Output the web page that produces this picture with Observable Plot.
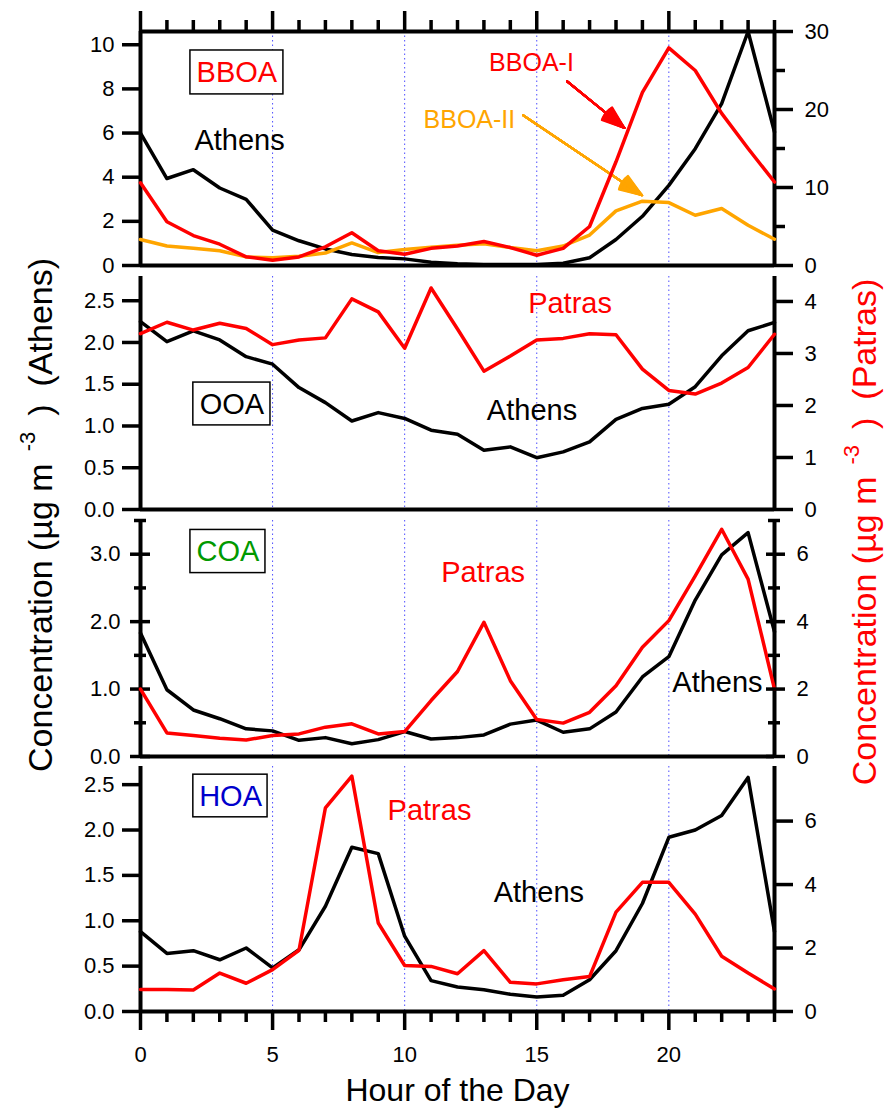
<!DOCTYPE html>
<html><head><meta charset="utf-8">
<script src="https://cdn.jsdelivr.net/npm/d3@7"></script>
<script src="https://cdn.jsdelivr.net/npm/@observablehq/plot@0.6"></script>
<style>
body{margin:0;background:#fff;}
#fig{position:relative;width:884px;height:1110px;font-family:"Liberation Sans",Arial,sans-serif;overflow:hidden;}
.panel{position:absolute;left:0;width:884px;}
.ytitle{position:absolute;white-space:nowrap;font-size:34px;transform:translate(-50%,-50%) rotate(-90deg);line-height:1;}
.ytitle sup{font-size:22px;vertical-align:0;position:relative;top:-17px;margin-left:12px;margin-right:16px;}
.ytitle .gap{display:inline-block;width:18px;}
</style></head><body><div id="fig"></div><script>
// ---------- data ----------
const hours = [0,1,2,3,4,5,6,7,8,9,10,11,12,13,14,15,16,17,18,19,20,21,22,23,24];
const bboaAthens = [6.0,3.94,4.34,3.51,3.0,1.6,1.12,0.75,0.5,0.36,0.3,0.15,0.08,0.05,0.05,0.05,0.1,0.35,1.18,2.23,3.63,5.29,7.33,10.6,6.05];
const bboaIPatras = [10.6,5.6,3.84,2.73,1.11,0.68,1.1,2.4,4.2,1.9,1.45,2.2,2.5,3.07,2.3,1.32,2.2,5.0,13.3,22.2,27.9,25.0,19.5,15.0,10.7];
const bboaIIPatras = [3.33,2.5,2.2,1.9,1.1,1.0,1.2,1.6,2.9,1.66,2.05,2.35,2.6,2.8,2.3,1.9,2.5,3.9,7.0,8.24,8.07,6.44,7.3,5.16,3.37];
const ooaAthens = [2.25,2.01,2.14,2.03,1.83,1.74,1.46,1.28,1.06,1.16,1.09,0.95,0.9,0.71,0.75,0.62,0.69,0.81,1.08,1.21,1.26,1.47,1.84,2.14,2.24];
const ooaPatras = [3.38,3.6,3.45,3.58,3.48,3.17,3.26,3.3,4.05,3.8,3.1,4.26,3.47,2.66,2.95,3.26,3.29,3.38,3.36,2.7,2.29,2.22,2.43,2.73,3.37];
const coaAthens = [1.83,0.99,0.69,0.56,0.41,0.38,0.24,0.28,0.19,0.25,0.37,0.26,0.28,0.32,0.48,0.54,0.36,0.41,0.66,1.18,1.48,2.32,2.99,3.32,1.85];
const coaPatras = [2.0,0.7,0.62,0.54,0.49,0.62,0.67,0.87,0.97,0.67,0.74,1.66,2.52,3.98,2.25,1.1,0.99,1.31,2.1,3.24,4.03,5.36,6.74,5.26,2.0];
const hoaAthens = [0.88,0.64,0.67,0.57,0.70,0.48,0.68,1.16,1.81,1.74,0.83,0.34,0.27,0.24,0.19,0.16,0.18,0.35,0.67,1.19,1.92,2.0,2.16,2.58,0.88];
const hoaPatras = [0.69,0.69,0.68,1.21,0.89,1.32,1.93,6.42,7.42,2.79,1.45,1.42,1.19,1.92,0.92,0.87,1.0,1.1,3.13,4.07,4.07,3.07,1.74,1.21,0.71];

const xMajorTicks = [0,5,10,15,20];
const xMinorTicks = [1,2,3,4,6,7,8,9,11,12,13,14,16,17,18,19,21,22,23,24];
const gridHours = [5,10,15,20];
const xTitle = "Hour of the Day";

// ---------- styles ----------
const RED = "#ff0000", ORANGE = "#ffa500", GREEN = "#009900", BLUE = "#0000cc";
const FONT = "'Liberation Sans', Arial, sans-serif";
const LW = 3.5, AW = 4, TW = 3.5;
const W = 884, ML = 140, MR = 110;

function series(vals){ return hours.map((h,i)=>({hour:h, v:vals[i]})); }

const panels = [
  { top:0, height:270, mt:31, mb:5, left:[0,10.6], right:[0,30],
    lTicks:[0,2,4,6,8,10], lMinor:[], lFmt:d3.format("d"),
    rTicks:[0,10,20,30], rMinor:[5,15,25], rFmt:d3.format("d"),
    leftLines:[{vals:bboaAthens, color:"black"}],
    rightLines:[{vals:bboaIIPatras, color:ORANGE},{vals:bboaIPatras, color:RED}],
    box:{x1:1.89,x2:5.41,y1:7.75,y2:9.74, text:"BBOA", x:3.65, y:8.72, color:RED},
    texts:[{x:3.75,y:5.65,text:"Athens",color:"black",size:29},
           {x:14.8,y:9.18,text:"BBOA-I",color:RED,size:25},
           {x:12.45,y:6.57,text:"BBOA-II",color:ORANGE,size:25}],
    arrows:[{x1:16.15,y1:8.34,x2:18.32,y2:6.23,color:RED},
            {x1:14.49,y1:6.8,x2:18.99,y2:3.18,color:ORANGE}],
    topAxis:true },
  { top:270, height:244, mt:6, mb:5, left:[0,2.79], right:[0,4.48],
    lTicks:[0,0.5,1,1.5,2,2.5], lMinor:[], lFmt:d3.format(".1f"),
    rTicks:[0,1,2,3,4], rMinor:[], rFmt:d3.format("d"),
    leftLines:[{vals:ooaAthens, color:"black"}],
    rightLines:[{vals:ooaPatras, color:RED}],
    box:{x1:2.0,x2:4.92,y1:1.007,y2:1.52, text:"OOA", x:3.46, y:1.25, color:"black"},
    texts:[{x:16.26,y:2.465,text:"Patras",color:RED,size:29},
           {x:14.82,y:1.186,text:"Athens",color:"black",size:29}],
    arrows:[] },
  { top:514, height:246, mt:6, mb:4, left:[0,3.5], right:[0,7],
    lTicks:[0,1,2,3], lMinor:[0.5,1.5,2.5,3.5], lFmt:d3.format(".1f"),
    rTicks:[0,2,4,6], rMinor:[1,3,5,7], rFmt:d3.format("d"),
    cross:true,
    leftLines:[{vals:coaAthens, color:"black"}],
    rightLines:[{vals:coaPatras, color:RED}],
    box:{x1:1.89,x2:4.73,y1:2.72,y2:3.36, text:"COA", x:3.31, y:3.03, color:GREEN},
    texts:[{x:12.97,y:2.73,text:"Patras",color:RED,size:29},
           {x:21.84,y:1.097,text:"Athens",color:"black",size:29}],
    arrows:[] },
  { top:760, height:350, mt:6, mb:99, left:[0,2.70], right:[0,7.72],
    lTicks:[0,0.5,1,1.5,2,2.5], lMinor:[], lFmt:d3.format(".1f"),
    rTicks:[0,2,4,6], rMinor:[], rFmt:d3.format("d"),
    leftLines:[{vals:hoaAthens, color:"black"}],
    rightLines:[{vals:hoaPatras, color:RED}],
    box:{x1:2.0,x2:4.81,y1:2.14,y2:2.61, text:"HOA", x:3.41, y:2.37, color:BLUE},
    texts:[{x:10.94,y:2.21,text:"Patras",color:RED,size:29},
           {x:15.08,y:1.31,text:"Athens",color:"black",size:29}],
    arrows:[] }
];

const fig = document.getElementById("fig");
const svgStyle = {position:"absolute", left:"0px", top:"0px", background:"transparent", overflow:"visible", fontFamily:FONT};

function yTicks(ticks, xAt, outLen, inLen, dir) {
  if (!ticks.length) return null;
  return Plot.ruleY(ticks, {y:d=>d, x1:()=>xAt, x2:()=>xAt,
    insetLeft: dir < 0 ? -outLen : -inLen,
    insetRight: dir < 0 ? -inLen : -outLen,
    stroke:"black", strokeWidth:TW});
}
function yLabels(ticks, side, offset, fmt) {
  return Plot.text(ticks, {y:d=>d, text:d=>fmt(d), frameAnchor:side,
    textAnchor: side === "left" ? "end" : "start", dx: side === "left" ? -offset : offset,
    fontSize:22, fill:"black"});
}
function xTicksTop(ticks, yAt, outLen) {
  return Plot.ruleX(ticks, {x:d=>d, y1:()=>yAt, y2:()=>yAt, insetTop:-outLen, stroke:"black", strokeWidth:TW});
}

for (const p of panels) {
  const div = document.createElement("div");
  div.className = "panel";
  div.style.top = p.top + "px";
  div.style.height = p.height + "px";
  fig.appendChild(div);

  const leftMarks = [
    Plot.ruleX(gridHours, {stroke:"#4d4dff", strokeWidth:1, strokeDasharray:"1.5,3"}),
    ...p.leftLines.map(s => Plot.line(series(s.vals), {x:"hour", y:"v", stroke:s.color, strokeWidth:LW})),
    Plot.ruleY([0], {stroke:"black", strokeWidth:AW}),
    Plot.ruleX([0], {stroke:"black", strokeWidth:AW}),
    Plot.ruleX([24], {stroke:"black", strokeWidth:AW}),
  ];
  if (p.cross) {
    leftMarks.push(yTicks(p.lTicks, 0, 10, 10, -1));
    leftMarks.push(yTicks(p.lMinor, 0, 6, 6, -1));
    leftMarks.push(yLabels(p.lTicks, "left", 20, p.lFmt));
  } else {
    leftMarks.push(yTicks(p.lTicks, 0, 18, 0, -1));
    leftMarks.push(yLabels(p.lTicks, "left", 26, p.lFmt));
  }
  leftMarks.push(Plot.rect([p.box], {x1:"x1", x2:"x2", y1:"y1", y2:"y2", fill:"white", stroke:"black", strokeWidth:1.5}));
  leftMarks.push(Plot.text([p.box], {x:"x", y:"y", text:"text", fill:p.box.color, fontSize:29, textAnchor:"middle"}));
  for (const t of p.texts) {
    leftMarks.push(Plot.text([t], {x:"x", y:"y", text:"text", fill:t.color, fontSize:t.size, textAnchor:"middle"}));
  }
  for (const a of p.arrows) {
    leftMarks.push(Plot.arrow([a], {x1:"x1", y1:"y1", x2:"x2", y2:"y2", stroke:a.color, strokeWidth:2, headLength:0}));
    for (const ang of [4,8,12,16,20,24,28,32,36,40]) {
      leftMarks.push(Plot.arrow([a], {x1:"x1", y1:"y1", x2:"x2", y2:"y2", stroke:a.color, strokeWidth:2, headLength:18, headAngle:ang}));
    }
  }
  if (p.topAxis) {
    leftMarks.push(Plot.ruleY([p.left[1]], {stroke:"black", strokeWidth:AW}));
    leftMarks.push(xTicksTop(xMajorTicks, p.left[1], 20));
    leftMarks.push(xTicksTop(xMinorTicks, p.left[1], 11));
  }
  const leftPlot = Plot.plot({
    width:W, marginLeft:ML, marginRight:MR, height:p.height, marginTop:p.mt, marginBottom:p.mb,
    x:{domain:[0,24], axis:null},
    y:{domain:p.left, axis:null},
    style:svgStyle,
    marks:leftMarks.filter(Boolean)
  });
  div.appendChild(leftPlot);

  const rightMarks = [
    ...p.rightLines.map(s => Plot.line(series(s.vals), {x:"hour", y:"v", stroke:s.color, strokeWidth:LW})),
  ];
  if (p.cross) {
    rightMarks.push(yTicks(p.rTicks, 24, 11, 8, 1));
    rightMarks.push(yTicks(p.rMinor, 24, 6, 6, 1));
    rightMarks.push(yLabels(p.rTicks, "right", 22, p.rFmt));
  } else {
    rightMarks.push(yTicks(p.rTicks, 24, 19, 0, 1));
    rightMarks.push(yTicks(p.rMinor, 24, 11, 0, 1));
    rightMarks.push(yLabels(p.rTicks, "right", 30, p.rFmt));
  }
  const rightPlot = Plot.plot({
    width:W, marginLeft:ML, marginRight:MR, height:p.height, marginTop:p.mt, marginBottom:p.mb,
    x:{domain:[0,24], axis:null},
    y:{domain:p.right, axis:null},
    style:svgStyle,
    marks:rightMarks.filter(Boolean)
  });
  div.appendChild(rightPlot);
}

// y-axis titles
const lt = document.createElement("div");
lt.className = "ytitle";
lt.style.left = "40px"; lt.style.top = "515px"; lt.style.color = "black";
lt.innerHTML = "Concentration (µg m<sup>-3</sup>)<span class='gap'></span>(Athens)";
fig.appendChild(lt);
const rtt = document.createElement("div");
rtt.className = "ytitle";
rtt.style.left = "864px"; rtt.style.top = "532px"; rtt.style.color = RED;
rtt.innerHTML = "Concentration (µg m<sup>-3</sup>)<span class='gap'></span>(Patras)";
fig.appendChild(rtt);

// bottom x axis: its own top layer, frame top aligned with the last panel's x axis
const axDiv = document.createElement("div");
axDiv.className = "panel";
axDiv.style.top = "1005px";
axDiv.style.height = "105px";
fig.appendChild(axDiv);
const AXH = 105, AXMT = 6, AXIH = AXH - AXMT;
const axisPlot = Plot.plot({
  width:W, marginLeft:ML, marginRight:MR, height:AXH, marginTop:AXMT, marginBottom:0,
  x:{domain:[0,24], axis:null},
  style:svgStyle,
  marks:[
    Plot.ruleX(xMajorTicks, {x:d=>d, insetBottom:AXIH - 19, stroke:"black", strokeWidth:TW}),
    Plot.ruleX(xMinorTicks, {x:d=>d, insetBottom:AXIH - 11, stroke:"black", strokeWidth:TW}),
    Plot.text(xMajorTicks, {x:d=>d, text:d=>d3.format("d")(d), frameAnchor:"top", lineAnchor:"top", dy:35, fontSize:22, fill:"black"}),
    Plot.text([xTitle], {frameAnchor:"top", lineAnchor:"middle", text:d=>d, dy:79, fontSize:32, fill:"black"})
  ]
});
axDiv.appendChild(axisPlot);
</script></body></html>
